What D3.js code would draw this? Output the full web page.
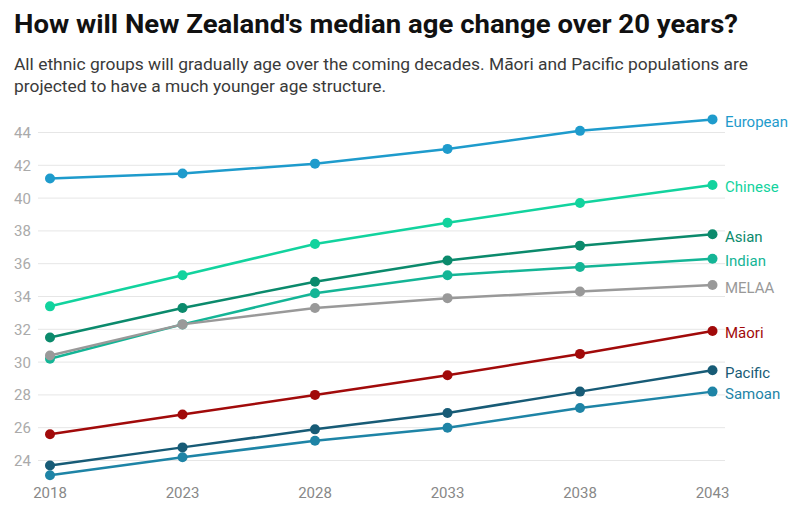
<!DOCTYPE html>
<html>
<head>
<meta charset="utf-8">
<script src="https://cdn.jsdelivr.net/npm/d3@7"></script>
<style>
  body { margin: 0; background: #fff; font-family: Roboto, "Noto Sans", sans-serif; }
  svg { display: block; }
</style>
</head>
<body>
<svg id="chart" width="796" height="520"></svg>
<script>
const years = [2018, 2023, 2028, 2033, 2038, 2043];
const yTicks = [24, 26, 28, 30, 32, 34, 36, 38, 40, 42, 44];

const european = [41.2, 41.5, 42.1, 43.0, 44.1, 44.8];
const chinese = [33.4, 35.3, 37.2, 38.5, 39.7, 40.8];
const asian = [31.5, 33.3, 34.9, 36.2, 37.1, 37.8];
const indian = [30.2, 32.3, 34.2, 35.3, 35.8, 36.3];
const melaa = [30.4, 32.3, 33.3, 33.9, 34.3, 34.7];
const maori = [25.6, 26.8, 28.0, 29.2, 30.5, 31.9];
const pacific = [23.7, 24.8, 25.9, 26.9, 28.2, 29.5];
const samoan = [23.1, 24.2, 25.2, 26.0, 27.2, 28.2];

// drawing order matters: MELAA sits on top of Indian at 2018
const series = [
  { name: "European", values: european, color: "#1e9bcc" },
  { name: "Chinese", values: chinese, color: "#12d39e" },
  { name: "Asian", values: asian, color: "#0b8a6c" },
  { name: "Indian", values: indian, color: "#14b596" },
  { name: "MELAA", values: melaa, color: "#999999" },
  { name: "Māori", values: maori, color: "#a10a0a" },
  { name: "Pacific", values: pacific, color: "#175b76" },
  { name: "Samoan", values: samoan, color: "#1e84a6" }
];

const svg = d3.select("#chart");

svg.append("text")
  .attr("x", 14).attr("y", 33)
  .attr("font-size", 25).attr("font-weight", 700)
  .attr("fill", "#111")
  .attr("textLength", 724).attr("lengthAdjust", "spacingAndGlyphs")
  .text("How will New Zealand's median age change over 20 years?");

const sub = svg.append("text")
  .attr("font-size", 17).attr("fill", "#3a3a3a");
sub.append("tspan").attr("x", 14).attr("y", 70)
  .attr("textLength", 734).attr("lengthAdjust", "spacingAndGlyphs")
  .text("All ethnic groups will gradually age over the coming decades. Māori and Pacific populations are");
sub.append("tspan").attr("x", 14).attr("y", 92)
  .attr("textLength", 372).attr("lengthAdjust", "spacingAndGlyphs")
  .text("projected to have a much younger age structure.");

const x = d3.scalePoint().domain(years).range([50, 712.5]);
const y = d3.scaleLinear().domain([24, 44]).range([460.5, 132.5]);

// gridlines
svg.append("g")
  .selectAll("line")
  .data(yTicks)
  .join("line")
  .attr("x1", 38).attr("x2", 725)
  .attr("y1", d => y(d)).attr("y2", d => y(d))
  .attr("stroke", "#e6e6e6").attr("stroke-width", 1);

// y labels
svg.append("g")
  .selectAll("text")
  .data(yTicks)
  .join("text")
  .attr("x", 14).attr("y", d => y(d) + 5.5)
  .attr("font-size", 15).attr("fill", "#aaaaaa")
  .text(d => d);

// x labels
svg.append("g")
  .selectAll("text")
  .data(years)
  .join("text")
  .attr("x", d => x(d)).attr("y", 498)
  .attr("text-anchor", "middle")
  .attr("font-size", 15).attr("fill", "#888")
  .text(d => d);

const line = d3.line()
  .x((d, i) => x(years[i]))
  .y(d => y(d));

const g = svg.append("g")
  .selectAll("g")
  .data(series)
  .join("g");

g.append("path")
  .attr("d", d => line(d.values))
  .attr("fill", "none")
  .attr("stroke", d => d.color)
  .attr("stroke-width", 2.5);

g.selectAll("circle")
  .data(d => d.values.map(v => ({ v, color: d.color })))
  .join("circle")
  .attr("cx", (d, i) => x(years[i]))
  .attr("cy", d => y(d.v))
  .attr("r", 5)
  .attr("fill", d => d.color);

g.append("text")
  .attr("x", 725)
  .attr("y", d => y(d.values[d.values.length - 1]) + 7.5)
  .attr("font-size", 15)
  .attr("fill", d => d.color)
  .text(d => d.name);
</script>
</body>
</html>
